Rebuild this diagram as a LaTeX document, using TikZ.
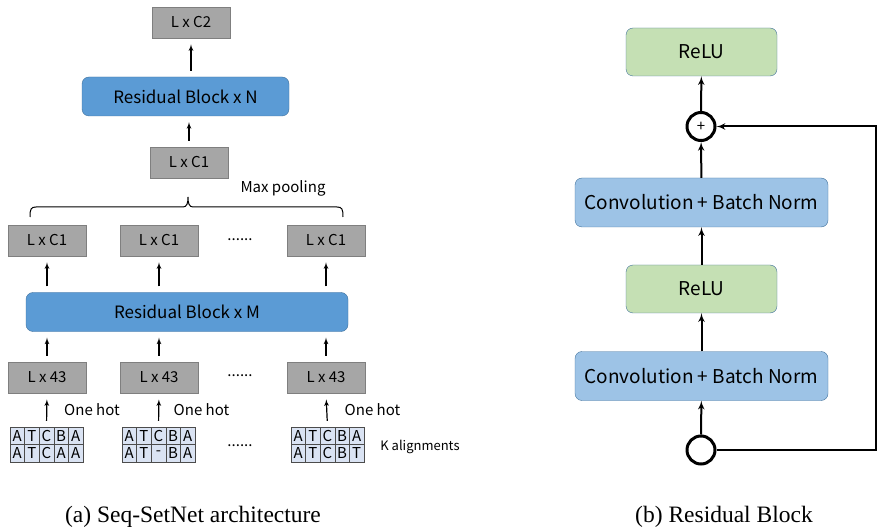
\documentclass[tikz,border=0pt]{standalone}
\usepackage{fontspec}
\setmainfont{Liberation Serif}
\setsansfont{Noto Sans CJK SC}
\usepackage{tikz}
\usetikzlibrary{shapes,arrows}
\definecolor{boxgray}{HTML}{A6A6A6}
\definecolor{boxedge}{HTML}{7F7F7F}
\definecolor{resblue}{HTML}{5B9BD5}
\definecolor{resedge}{HTML}{41719C}
\definecolor{convblue}{HTML}{9DC3E6}
\definecolor{relugreen}{HTML}{C5E0B4}
\definecolor{cellblue}{HTML}{DAE3F3}
\tikzstyle{feat} = [rectangle, draw=boxedge, fill=boxgray, inner sep=0pt, line width=0.8pt,
    minimum width=78pt, minimum height=31pt, font=\sffamily\fontsize{15}{18}\selectfont]
\tikzstyle{res} = [rectangle, draw=resedge, fill=resblue, rounded corners=7pt,
    inner sep=0pt, minimum height=39pt, font=\sffamily\fontsize{17}{20}\selectfont]
\tikzstyle{conv} = [rectangle, draw=resedge, fill=convblue, rounded corners=7pt,
    inner sep=0pt, minimum width=253pt, minimum height=49pt, font=\sffamily\fontsize{19}{24}\selectfont]
\tikzstyle{relu} = [rectangle, draw=resedge, fill=relugreen, rounded corners=7pt,
    inner sep=0pt, minimum width=151pt, minimum height=48pt, font=\sffamily\fontsize{19}{24}\selectfont]
\tikzstyle{sum} = [circle, draw, line width=3pt, minimum size=28pt, inner sep=0pt]
\tikzstyle{cell} = [rectangle, draw=black!70, fill=cellblue, inner sep=0pt,
    minimum width=14.6pt, minimum height=17.5pt, font=\sffamily\fontsize{15}{15}\selectfont]
\tikzstyle{note} = [font=\sffamily\fontsize{15}{18}\selectfont]
\tikzstyle{caption} = [font=\fontsize{23.5}{28}\selectfont]
\tikzstyle{line} = [draw, -latex', line width=1.2pt, shorten >=6pt, shorten <=6pt]
\tikzstyle{link} = [draw, -latex', line width=2pt]

\begin{document}
\begin{tikzpicture}[x=1pt, y=-1pt]
    \useasboundingbox (0,0) rectangle (878,529);
    % Place nodes (left)
    \node [feat] (out) at (191,22.5) {L x C2};
    \node [res, minimum width=207pt] (resN) at (185.5,96.5) {Residual Block x N};
    \node [feat] (pool) at (189,162.5) {L x C1};
    \node [note] (maxp) at (283,188) {Max pooling};
    \node [feat] (lc1) at (47,240.5) {L x C1};
    \node [feat] (lc2) at (159,240.5) {L x C1};
    \node [feat] (lc3) at (326,240.5) {L x C1};
    \node [note] (dots1) at (240,240) {......};
    \node [res, minimum width=322pt] (resM) at (187,312) {Residual Block x M};
    \node [feat] (in1) at (47,377.5) {L x 43};
    \node [feat] (in2) at (159,377.5) {L x 43};
    \node [feat] (in3) at (326,377.5) {L x 43};
    \node [note] (dots2) at (240,376) {......};
    \node [note] (hot1) at (92,410) {One hot};
    \node [note] (hot2) at (201.5,410) {One hot};
    \node [note] (hot3) at (372.5,410) {One hot};
    % alignments
    \foreach \g/\x/\ba/\bb/\bc/\bd/\be in {1/10/A/T/C/A/A, 2/122/A/T/-/B/A, 3/291/A/T/C/B/T} {
        \foreach \c/\t in {1/A,2/T,3/C,4/B,5/A}
            \node [cell] (a\g-1-\c) at ({\x+(\c-0.5)*14.6},435.75) {\t};
        \foreach \c/\t in {1/\ba,2/\bb,3/\bc,4/\bd,5/\be}
            \node [cell] (a\g-2-\c) at ({\x+(\c-0.5)*14.6},453.25) {\t};
    }
    \node [note] (dots3) at (240,446) {......};
    \node [note, font=\sffamily\fontsize{13}{16}\selectfont] (kal) at (420,447) {K alignments};
    \node [caption] (capa) at (193,517) {(a) Seq-SetNet architecture};
    % brace for max pooling
    \coordinate (bl) at (30,217);
    \coordinate (bm) at (188,197);
    \coordinate (br) at (343,217);
    \draw [line width=1pt] (bl) .. controls (30,209) and (31,207) .. (36,207) -- (183,207)
        .. controls (187,207) and (188,203) .. (bm)
        .. controls (188,203) and (189,207) .. (193,207) -- (337,207)
        .. controls (342,207) and (343,209) .. (br);
    % Draw edges (left)
    \path [line] (out.south |- resN.north) -- (out.south);
    \path [line] (pool.north) -- (pool.north |- resN.south);
    \foreach \i in {1,2,3} {
        \path [line] (a\i-1-3.north) -- (in\i.south);
        \path [line] (in\i.north) -- (in\i.north |- resM.south);
        \path [line] (lc\i.south |- resM.north) -- (lc\i.south);
    }
    % Place nodes (right)
    \node [relu] (relu1) at (701.5,52) {ReLU};
    \node [sum, font=\sffamily\fontsize{15}{15}\selectfont] (plus) at (701,126.5) {+};
    \node [conv] (conv1) at (701.5,202.5) {Convolution + Batch Norm};
    \node [relu] (relu2) at (701.5,289) {ReLU};
    \node [conv] (conv2) at (701.5,376) {Convolution + Batch Norm};
    \node [sum] (inp) at (701,450) {};
    \coordinate (skip) at (876,450);
    \node [caption] (capb) at (724,517) {(b) Residual Block};
    % Draw edges (right)
    \path [link] (inp) -- (conv2);
    \path [link] (conv2) -- (relu2);
    \path [link] (relu2) -- (conv1);
    \path [link] (conv1) -- (plus);
    \path [link] (plus) -- (relu1);
    \path [link] (inp) -- (skip) |- (plus);
\end{tikzpicture}
\end{document}
